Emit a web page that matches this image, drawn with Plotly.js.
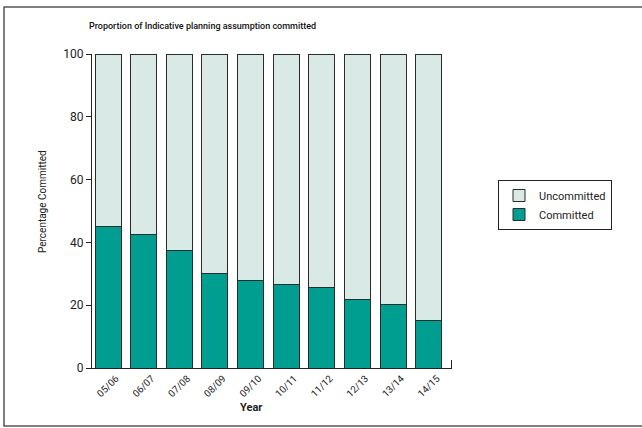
<!DOCTYPE html>
<html>
<head>
<meta charset="utf-8">
<script src="https://cdn.plot.ly/plotly-3.0.1.min.js"></script>
<style>html,body{margin:0;padding:0;background:#fff;}#chart{width:642px;height:428px;}</style>
</head>
<body>
<div id="chart"></div>
<script>
const years = ["05/06","06/07","07/08","08/09","09/10","10/11","11/12","12/13","13/14","14/15"];
const committed = [45.2, 42.4, 37.5, 30.0, 27.8, 26.7, 25.6, 21.9, 20.2, 15.0];
const uncommitted = [54.8, 57.6, 62.5, 70.0, 72.2, 73.3, 74.4, 78.1, 79.8, 85.0];
const yTicks = [0, 20, 40, 60, 80, 100];

const FONT = "Roboto, Noto Sans, sans-serif";
const L = 92, R = 452, T = 54, B = 368;
const px = v => (v - L) / (R - L);
const py = v => (B - v) / (B - T);

const traces = [
  {type: "bar", name: "Committed", x: years, y: committed,
   marker: {color: "#009e91", line: {color: "#2b2b2b", width: 1}}},
  {type: "bar", name: "Uncommitted", x: years, y: uncommitted,
   marker: {color: "#d9eae6", line: {color: "#2b2b2b", width: 1}}}
];

const layout = {
  width: 642, height: 428,
  margin: {l: L, r: 642 - R, t: T, b: 428 - B, pad: 0},
  paper_bgcolor: "#fff", plot_bgcolor: "#fff",
  barmode: "stack", bargap: 0.27,
  font: {family: FONT, size: 11, color: "#222"},
  xaxis: {range: [-0.45, 9.65], showline: true, linecolor: "#222", linewidth: 1,
          ticks: "", tickangle: -45, tickfont: {size: 9.8, color: "#222"},
          ticklabelshift: 8, ticklabelstandoff: 0,
          showgrid: false, zeroline: false, fixedrange: true},
  yaxis: {range: [0, 100], tickvals: yTicks, showline: true, linecolor: "#222", linewidth: 1,
          ticks: "outside", ticklen: 5, tickcolor: "#222", tickfont: {size: 12, color: "#222"},
          showgrid: false, zeroline: false, fixedrange: true},
  showlegend: true,
  legend: {x: px(498), y: py(180), xanchor: "left", yanchor: "top", traceorder: "reversed",
           bordercolor: "#222", borderwidth: 1, bgcolor: "#fff",
           font: {size: 11, color: "#222"}, tracegroupgap: 4},
  annotations: [
    {text: "Proportion of Indicative planning assumption committed", xref: "paper", yref: "paper",
     x: px(87), y: py(26), xanchor: "left", yanchor: "middle", showarrow: false,
     font: {size: 9, weight: 500, color: "#111"}},
    {text: "Year", xref: "paper", yref: "paper", x: px(251), y: py(407), xanchor: "center", yanchor: "middle",
     showarrow: false, font: {size: 11, weight: "bold", color: "#222"}},
    {text: "Percentage Committed", xref: "paper", yref: "paper", x: px(42), y: py(202), xanchor: "center", yanchor: "middle",
     textangle: -90, showarrow: false, font: {size: 10, color: "#222"}}
  ],
  shapes: [
    {type: "rect", xref: "paper", yref: "paper", x0: px(4), x1: px(652), y0: py(426), y1: py(7),
     line: {color: "#555", width: 1.5}, layer: "below"},
    {type: "line", xref: "paper", yref: "paper", x0: px(451.5), x1: px(451.5), y0: 0, y1: py(360),
     line: {color: "#222", width: 1}}
  ]
};

Plotly.newPlot("chart", traces, layout, {displayModeBar: false, staticPlot: true});
</script>
</body>
</html>
